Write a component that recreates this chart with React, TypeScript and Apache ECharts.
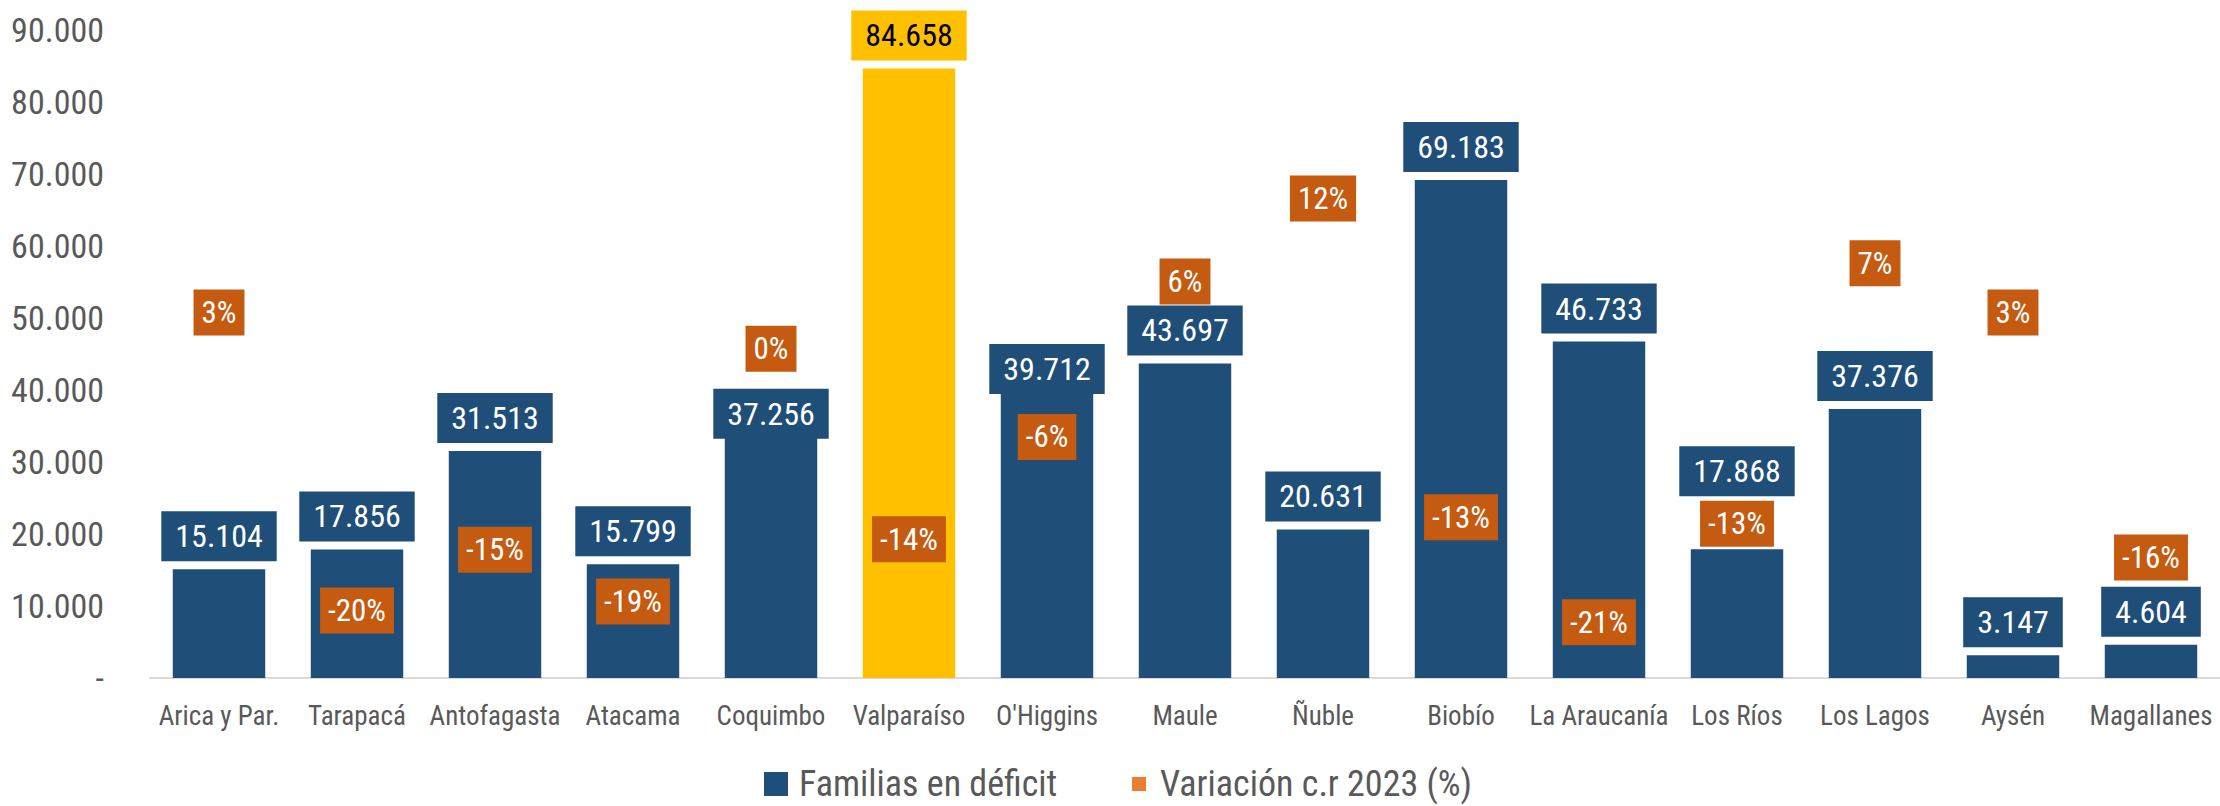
import React, { useEffect, useRef } from "react";
import * as echarts from "echarts";

const categories = [
  "Arica y Par.", "Tarapacá", "Antofagasta", "Atacama", "Coquimbo", "Valparaíso",
  "O'Higgins", "Maule", "Ñuble", "Biobío", "La Araucanía", "Los Ríos", "Los Lagos", "Aysén", "Magallanes",
];
const familias = [15104, 17856, 31513, 15799, 37256, 84658, 39712, 43697, 20631, 69183, 46733, 17868, 37376, 3147, 4604];
const variacion = [3.2, -19.8, -15.1, -19.1, 0.4, -14.3, -6.4, 5.6, 12.0, -12.6, -20.7, -13.1, 7.0, 3.2, -15.7];
const yTicks = [0, 10000, 20000, 30000, 40000, 50000, 60000, 70000, 80000, 90000];

const highlightIndex = 5;
const labelShift: Record<number, number> = { 4: 37, 6: 10, 11: -45 };

const FONT = "'Roboto Condensed', 'DejaVu Sans Condensed', sans-serif";
const BLUE = "#1F4E79";
const GOLD = "#FFC000";
const ORANGE = "#C55A11";
const GREY = "#595959";

const fmt = (v: number) => String(v).replace(/\B(?=(\d{3})+(?!\d))/g, ".");

export default function App() {
  const ref = useRef<HTMLDivElement>(null);
  useEffect(() => {
    if (!ref.current) return;
    const chart = echarts.init(ref.current, undefined, { renderer: "svg" });
    const barData = familias.map((v, i) => {
      const hi = i === highlightIndex;
      const item: any = {
        value: v,
        itemStyle: { color: hi ? GOLD : BLUE },
        label: {
          backgroundColor: hi ? GOLD : BLUE,
          color: hi ? "#000000" : "#FFFFFF",
        },
      };
      if (labelShift[i] !== undefined) item.label.offset = [0, labelShift[i]];
      return item;
    });
    chart.setOption({
      animation: false,
      textStyle: { fontFamily: FONT },
      grid: { left: 150, right: -13, top: 30, bottom: 128, containLabel: false },
      legend: [
        {
          data: [{ name: "Familias en déficit", itemStyle: { color: BLUE } }],
          left: 759,
          top: 761,
          itemWidth: 24,
          itemHeight: 24,
          icon: "rect",
          textStyle: { fontSize: 36, color: GREY, fontFamily: FONT, padding: [0, 0, 0, 6], lineHeight: 36 },
          selectedMode: false,
        },
        {
          data: [{ name: "Variación c.r 2023 (%)", itemStyle: { color: "#ED7D31" } }],
          left: 1127,
          top: 761,
          itemWidth: 14,
          itemHeight: 14,
          icon: "rect",
          textStyle: { fontSize: 36, color: GREY, fontFamily: FONT, padding: [0, 0, 0, 9], lineHeight: 36 },
          selectedMode: false,
        },
      ],
      xAxis: {
        type: "category",
        data: categories,
        axisLine: { lineStyle: { color: "#D9D9D9", width: 2 } },
        axisTick: { show: false },
        axisLabel: { color: GREY, fontSize: 27, fontFamily: FONT, margin: 24, interval: 0 },
      },
      yAxis: [
        {
          type: "value",
          min: yTicks[0],
          max: yTicks[yTicks.length - 1],
          interval: yTicks[1] - yTicks[0],
          splitLine: { show: false },
          axisLine: { show: false },
          axisTick: { show: false },
          axisLabel: {
            color: GREY,
            fontSize: 34,
            fontFamily: FONT,
            margin: 46,
            formatter: (v: number) => (v === 0 ? "-" : fmt(v)),
          },
        },
        { type: "value", min: -25, max: 25, show: false, splitLine: { show: false } },
      ],
      series: [
        {
          name: "Familias en déficit",
          type: "bar",
          data: barData,
          barWidth: "67%",
          z: 2,
          label: {
            show: true,
            position: "top",
            distance: 8,
            fontSize: 32,
            lineHeight: 34,
            fontFamily: FONT,
            padding: [8, 14],
            formatter: (p: any) => fmt(p.value),
          },
        },
        {
          name: "Variación c.r 2023 (%)",
          type: "scatter",
          yAxisIndex: 1,
          data: variacion,
          symbol: "rect",
          symbolSize: 1,
          z: 10,
          itemStyle: { color: "rgba(0,0,0,0)", opacity: 1 },
          label: {
            show: true,
            position: "inside",
            color: "#FFFFFF",
            opacity: 1,
            backgroundColor: ORANGE,
            fontSize: 31,
            lineHeight: 30,
            fontFamily: FONT,
            padding: [8, 8],
            formatter: (p: any) => Math.round(p.value) + "%",
          },
        },
      ],
    });
    return () => chart.dispose();
  }, []);
  return <div ref={ref} style={{ position: "absolute", left: 0, top: 0, width: 2220, height: 806 }} />;
}
